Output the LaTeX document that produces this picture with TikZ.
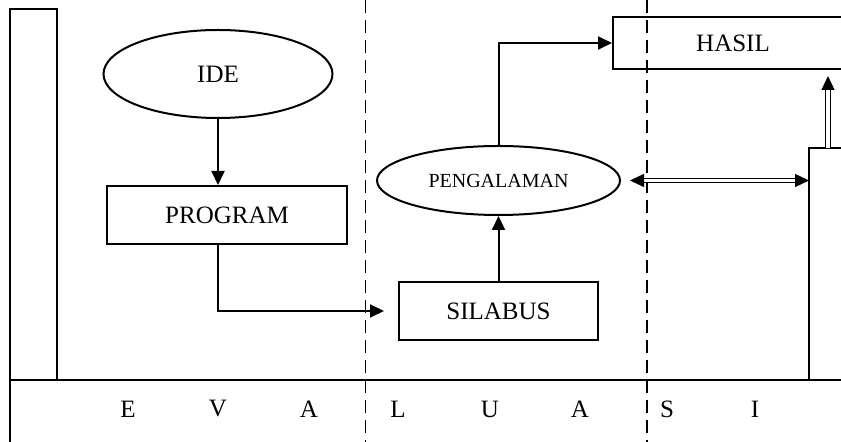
\documentclass[tikz,border=0pt]{standalone}
\usepackage{fontspec}
\setmainfont{Liberation Serif}
\usetikzlibrary{shapes,arrows.meta,positioning,calc}

\begin{document}
\begin{tikzpicture}[
    x=0.5pt, y=-0.5pt,
    line width=1pt,
    block/.style={rectangle, draw, minimum width=120pt, minimum height=29pt, inner sep=0pt, font=\fontsize{12.5}{14}\selectfont},
    oval/.style={ellipse, draw, inner sep=0pt},
    panel/.style={rectangle, draw, inner sep=0pt, outer sep=0pt},
    arrow/.style={-{Triangle[length=7pt,width=6.5pt]}},
    dblarrow/.style={double, double distance=1.6pt, line width=0.6pt},
    divider/.style={dashed, dash pattern=on 6.5pt off 3.5pt, line width=0.7pt},
    letter/.style={font=\fontsize{12.5}{14}\selectfont},
]
    \useasboundingbox (0,0) rectangle (841,442);

    % Frame
    \node[panel, minimum width=23.5pt, minimum height=185.5pt] (kiri) at (33.5,194.5) {};
    \node[panel, minimum width=19pt, minimum height=116pt] (kanan) at (828,264) {};
    \draw (kiri.south west) -- (10,442);
    \draw (kiri.south west) -- (841,380);
    \draw[divider] (365.5,0) -- (365.5,442);
    \draw[divider] (647,0) -- (647,442);

    % Blocks
    \node[oval, minimum width=114.5pt, minimum height=44pt, font=\fontsize{12.5}{14}\selectfont] (ide) at (218,74) {IDE};
    \node[block, below=33pt of ide, xshift=4.5pt] (program) {PROGRAM};
    \node[block, minimum width=99.5pt] (silabus) at (498.5,311) {SILABUS};
    \node[oval, minimum width=121.5pt, minimum height=34.5pt, font=\fontsize{10}{12}\selectfont, above=32.5pt of silabus] (pengalaman) {PENGALAMAN};
    \node[block, minimum height=26pt] (hasil) at (733,43) {HASIL};

    % Arrows
    \draw[arrow] (ide.south) -- (program.north -| ide.south);
    \draw[arrow, shorten >=7pt] (program.south -| ide.south) |- (silabus.west);
    \draw[arrow] (silabus) -- (pengalaman);
    \draw[arrow] (pengalaman) |- (hasil.west);
    \draw[dblarrow, {Triangle[length=7pt,width=6.5pt]}-{Triangle[length=7pt,width=6.5pt]}, shorten <=4.5pt] (pengalaman.east) -- (pengalaman.east -| kanan.west);
    \draw[dblarrow, -{Triangle[length=7pt,width=6.5pt]}, shorten >=3pt] (kanan.north) -- (kanan.north |- hasil.south);

    % Labels
    \foreach \huruf/\x [count=\i] in {E/128, V/218, A/309, L/398, U/490, A/580, S/667, I/755}
        \node[letter] (huruf\i) at (\x,409) {\huruf};
\end{tikzpicture}
\end{document}
